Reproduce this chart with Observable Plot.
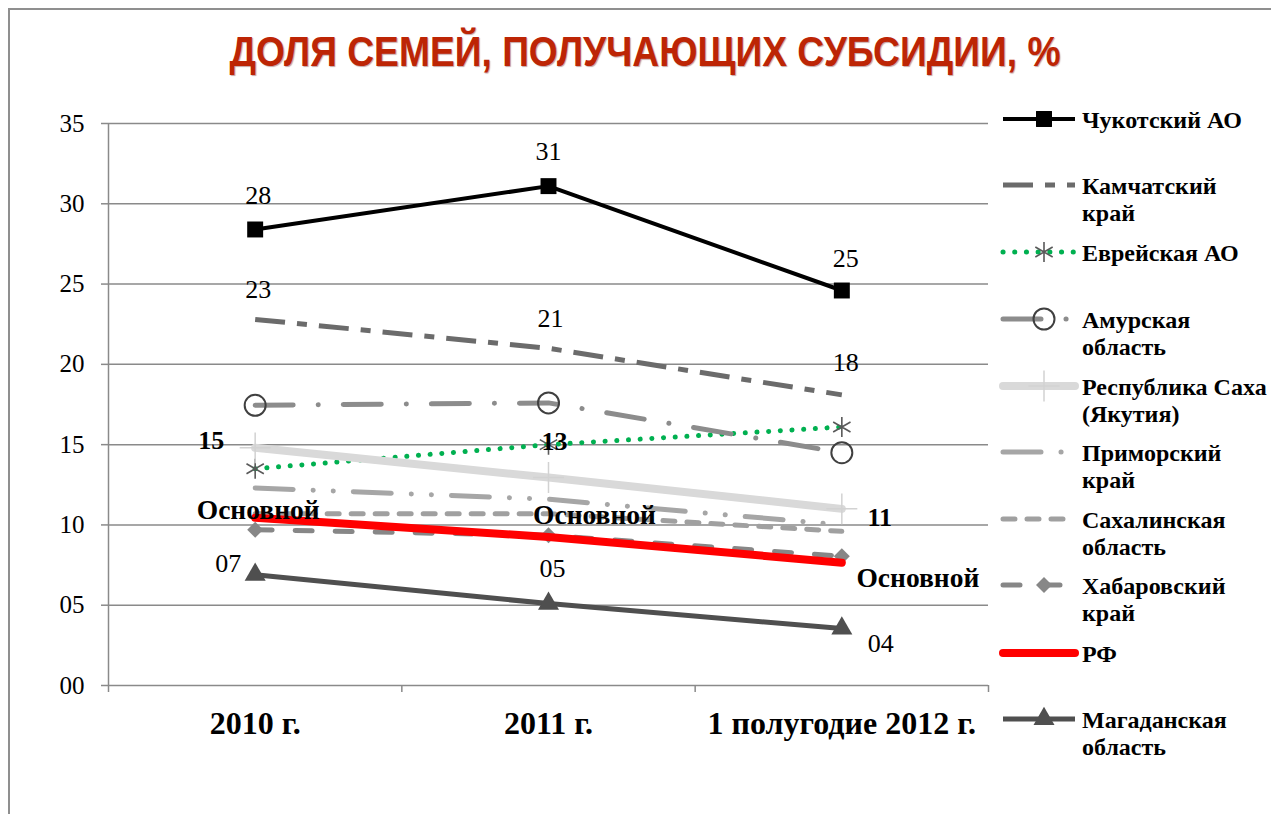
<!DOCTYPE html>
<html>
<head>
<meta charset="utf-8">
<script src="https://cdn.jsdelivr.net/npm/d3@7"></script>
<script src="https://cdn.jsdelivr.net/npm/@observablehq/plot@0.6"></script>
<style>
  html, body { margin: 0; padding: 0; background: #fff; }
  #root { position: relative; width: 1271px; height: 814px; overflow: hidden; font-family: "Liberation Serif", "Times New Roman", serif; }
  #frame { position: absolute; left: 8px; top: 8px; width: 1400px; height: 1000px; border-left: 2px solid #8f8f8f; border-top: 2px solid #8f8f8f; }
  #title { position: absolute; top: 31px; left: 645px; white-space: nowrap; font-family: "Liberation Sans", Arial, sans-serif; font-weight: bold; font-size: 42px; line-height: 42px; color: #bd2505; text-shadow: 1px 1px 1px rgba(90,0,0,0.35); transform-origin: 0 0; }
  #chart { position: absolute; left: 0; top: 0; }
  .leg { position: absolute; left: 1003px; }
  .leg svg { position: absolute; left: 0; top: 0; overflow: visible; }
  .leg .lt { position: absolute; left: 79px; top: 0; white-space: nowrap; font-weight: bold; font-size: 24px; line-height: 27px; color: #000; }
</style>
</head>
<body>
<div id="root">
  <div id="frame"></div>
  <div id="title">ДОЛЯ СЕМЕЙ, ПОЛУЧАЮЩИХ СУБСИДИИ, %</div>
  <div id="chart"></div>
</div>
<script>
// ---------- data ----------
const categories = ["2010 г.", "2011 г.", "1 полугодие 2012 г."];
const seriesNames = [
  "Чукотский АО", "Камчатский край", "Еврейская АО", "Амурская область",
  "Республика Саха (Якутия)", "Приморский край", "Сахалинская область",
  "Хабаровский край", "РФ", "Магаданская область"
];
const chukotka   = [28.4, 31.1, 24.6];
const kamchatka  = [22.8, 21.0, 18.1];
const evrei      = [13.5, 15.0, 16.1];
const amur       = [17.45, 17.6, 14.5];
const sakha      = [14.8, 12.95, 11.0];
const primorsky  = [12.3, 11.6, 10.0];
const sakhalin   = [10.7, 10.7, 9.6];
const khabarovsk = [9.7, 9.35, 8.05];
const rf         = [10.45, 9.25, 7.65];
const magadan    = [6.9, 5.1, 3.55];
const yTicks = [0, 5, 10, 15, 20, 25, 30, 35];
const rfLabelText = ["Основной", "Основной", "Основной"];
const legendLabels = [
  ["Чукотский АО"], ["Камчатский", "край"], ["Еврейская АО"], ["Амурская", "область"],
  ["Республика Саха", "(Якутия)"], ["Приморский", "край"], ["Сахалинская", "область"],
  ["Хабаровский", "край"], ["РФ"], ["Магаданская", "область"]
];
const seriesValues = [chukotka, kamchatka, evrei, amur, sakha, primorsky, sakhalin, khabarovsk, rf, magadan];

// ---------- styles (not data) ----------
const styles = [
  {stroke: "#000000", width: 4, dash: null, cap: "butt", symbol: "square", r: 9, mfill: "#000", mstroke: "none"},
  {stroke: "#6b6b6b", width: 5, dash: "30,12,10,12", cap: "butt"},
  {stroke: "#00b050", width: 5, dash: "0.1,11.6", cap: "round", symbol: "asterisk", r: 9.5, mfill: "none", mstroke: "#595959", mwidth: 1.6},
  {stroke: "#8c8c8c", width: 5, dash: "38,25,0.1,25", cap: "round", symbol: "circle", r: 10.5, mfill: "none", mstroke: "#404040", mwidth: 2},
  {stroke: "#d9d9d9", width: 8, dash: null, cap: "round", symbol: "plus", r: 10, mfill: "none", mstroke: "#d2d2d2", mwidth: 1.5},
  {stroke: "#a6a6a6", width: 5, dash: "38,20,0.1,20,0.1,20", cap: "round"},
  {stroke: "#a0a0a0", width: 5, dash: "12,12", cap: "round"},
  {stroke: "#878787", width: 5, dash: "17,23", cap: "round", symbol: "diamond2", r: 7.2, mfill: "#878787", mstroke: "none"},
  {stroke: "#ff0000", width: 8, dash: null, cap: "round"},
  {stroke: "#4f4f4f", width: 5, dash: null, cap: "butt", symbol: "triangle", r: 7.8, mfill: "#4f4f4f", mstroke: "none"}
];
const labelLayout = {
  0: {dx: [3, 0, 4], dy: [-34, -34, -32], weight: "normal"},
  1: {dx: [3, 2, 4], dy: [-30, -30, -32], weight: "normal"},
  4: {dx: [-44, 6, 38], dy: [-7, -36, 9], weight: "bold"},
  8: {dx: [3, 46, 76], dy: [-8, -22, 16], weight: "bold"},
  9: {dx: [-27, 4, 39], dy: [-11, -35, 15], weight: "normal"}
};

const fmt = d3.format("02.0f");
const grid = "#8a8a8a";
const rows = seriesValues.map((vals, s) => vals.map((v, i) => ({s, i, v})));

const marks = [
  Plot.ruleY(yTicks, {stroke: grid, strokeWidth: 1.5}),
  Plot.ruleX([-0.5], {stroke: grid, strokeWidth: 1.5}),
  Plot.axisY({ticks: yTicks, label: null, tickSize: 7, tickPadding: 17, tickFormat: fmt, stroke: grid, strokeWidth: 1.5, fontSize: 25}),
  Plot.axisX({ticks: d3.range(categories.length + 1).map(k => k - 0.5), label: null, tickSize: 7, tickFormat: () => "", stroke: grid, strokeWidth: 1.5}),
  Plot.axisX({ticks: d3.range(categories.length), label: null, tickSize: 0, tickPadding: 26, tickFormat: k => categories[k], fontSize: 32, fontWeight: "bold"})
];

rows.forEach((data, s) => {
  const st = styles[s];
  marks.push(Plot.line(data, {x: "i", y: "v", stroke: st.stroke, strokeWidth: st.width,
    strokeDasharray: st.dash || undefined, strokeLinecap: st.cap, strokeLinejoin: "round"}));
  if (st.symbol) {
    marks.push(Plot.dot(data, {x: "i", y: "v", symbol: st.symbol, r: st.r, fill: st.mfill,
      stroke: st.mstroke, strokeWidth: st.mwidth || 1}));
  }
});

Object.keys(labelLayout).forEach(key => {
  const s = +key, L = labelLayout[key];
  rows[s].forEach((d, k) => {
    marks.push(Plot.text([d], {x: "i", y: "v",
      text: s === 8 ? (dd => rfLabelText[dd.i]) : (dd => fmt(dd.v)),
      dx: L.dx[k], dy: L.dy[k], fontSize: s === 8 ? 27.5 : 26, fontWeight: L.weight, fill: "#000"}));
  });
});

const chart = Plot.plot({
  width: 1000, height: 800,
  marginLeft: 108, marginRight: 12, marginTop: 123, marginBottom: 115,
  x: {domain: [-0.5, categories.length - 0.5], label: null},
  y: {domain: [0, 35], label: null},
  style: {background: "none", fontFamily: "'Liberation Serif', 'Times New Roman', serif", color: "#000", overflow: "visible"},
  marks
});
document.getElementById("chart").appendChild(chart);

// ---------- title: fit to reference width ----------
const title = document.getElementById("title");
const tw = title.getBoundingClientRect().width;
const sx = 831 / tw;
title.style.transform = `translate(${-415.5}px,0) scaleX(${sx})`;

// ---------- legend ----------
const legendY = [121, 187, 254, 321, 388, 454, 521, 587, 655, 721];
const root = document.getElementById("root");
legendLabels.forEach((lines, s) => {
  const st = styles[s];
  const div = document.createElement("div");
  div.className = "leg";
  div.style.top = (legendY[s] - 14) + "px";
  const ly = 12;
  let svg = `<svg width="76" height="28">`;
  svg += `<line x1="0" x2="72" y1="${ly}" y2="${ly}" stroke="${st.stroke}" stroke-width="${st.width}" stroke-linecap="${st.cap}" ${st.dash ? `stroke-dasharray="${st.dash}"` : ""}/>`;
  if (st.symbol) {
    const typeMap = {square: d3.symbolSquare, asterisk: d3.symbolAsterisk, circle: d3.symbolCircle, plus: d3.symbolPlus, diamond2: d3.symbolDiamond2, triangle: d3.symbolTriangle};
    const path = d3.symbol(typeMap[st.symbol], Math.PI * st.r * st.r)();
    svg += `<path transform="translate(41,${ly})" d="${path}" fill="${st.mfill}" stroke="${st.mstroke}" stroke-width="${st.mwidth || 1}"/>`;
  }
  svg += `</svg>`;
  div.innerHTML = svg + `<div class="lt">${lines.join("<br>")}</div>`;
  root.appendChild(div);
});
</script>
</body>
</html>
